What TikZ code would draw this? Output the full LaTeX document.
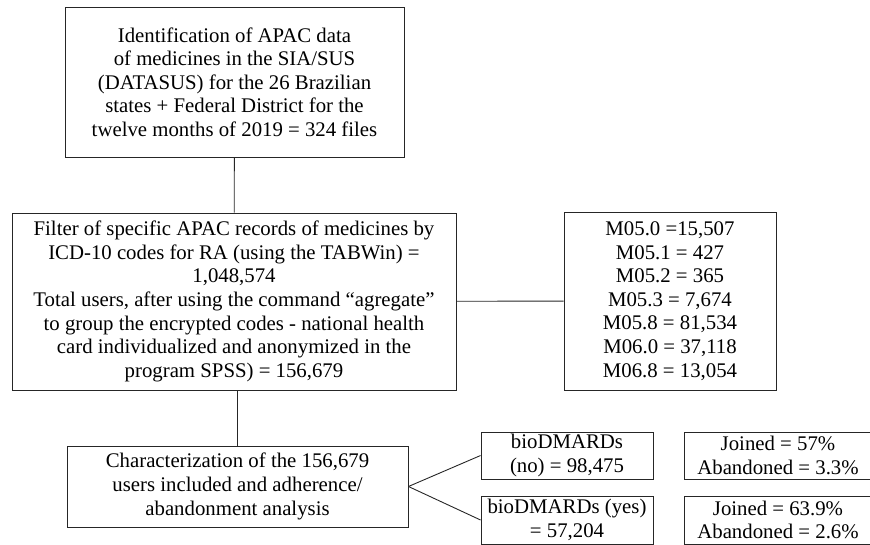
\documentclass[tikz,border=0pt]{standalone}
\usepackage{fontspec}
\setmainfont{Liberation Serif}
\usetikzlibrary{positioning}

\begin{document}
\begin{tikzpicture}[
  x=1pt, y=-1pt,
  font=\fontsize{20.8}{23.6}\selectfont,
  box/.style={draw=black!85, line width=0.9pt, align=center, inner sep=0pt},
  bigbox/.style={box, minimum width=339pt, minimum height=150pt},
  smallbox/.style={box, minimum width=172pt, minimum height=47pt},
  resbox/.style={box, minimum width=188pt, minimum height=47pt},
  link/.style={draw=black!85, line width=0.9pt}
]
\useasboundingbox (0,0) rectangle (870,545);

\node[bigbox] (ident) at (234.5,82)
      {Identification of APAC data\\of medicines in the SIA/SUS\\(DATASUS) for the 26 Brazilian\\states + Federal District for the\\twelve months of 2019 = 324 files};
\node[box, minimum width=444pt, minimum height=177pt] (filter) at (234,301.5)
      {Filter of specific APAC records of medicines by\\ICD-10 codes for RA (using the TABWin) =\\1,048,574\\Total users, after using the command ``agregate''\\to group the encrypted codes - national health\\card individualized and anonymized in the\\program SPSS) = 156,679};
\node[box, minimum width=212pt, minimum height=178pt] (codes) at (670,301)
      {M05.0 =15,507\\M05.1 = 427\\M05.2 = 365\\M05.3 = 7,674\\M05.8 = 81,534\\M06.0 = 37,118\\M06.8 = 13,054};

\node[box, minimum width=341pt, minimum height=81pt] (charac) at (237.5,486.5)
      {Characterization of the 156,679\\users included and adherence/\\abandonment analysis};
\node[smallbox] (bno)  at (567,455.5) {bioDMARDs\\(no) = 98,475};
\node[smallbox, minimum height=48pt] (byes) at (567,520) {bioDMARDs (yes)\\= 57,204};
\node[resbox] (jno)  at (778,455.5) {Joined = 57\%\\Abandoned = 3.3\%};
\node[resbox, minimum height=48pt] (jyes) at (778,520) {Joined = 63.9\%\\Abandoned = 2.6\%};

\draw[link] (ident)  -- (filter);
\draw[link] (filter) -- (codes);
\draw[link] (filter.south -| charac.north) -- (charac.north);
\draw[link] (charac.east) -- (bno.west);
\draw[link] (charac.east) -- (byes.west);
\end{tikzpicture}
\end{document}
